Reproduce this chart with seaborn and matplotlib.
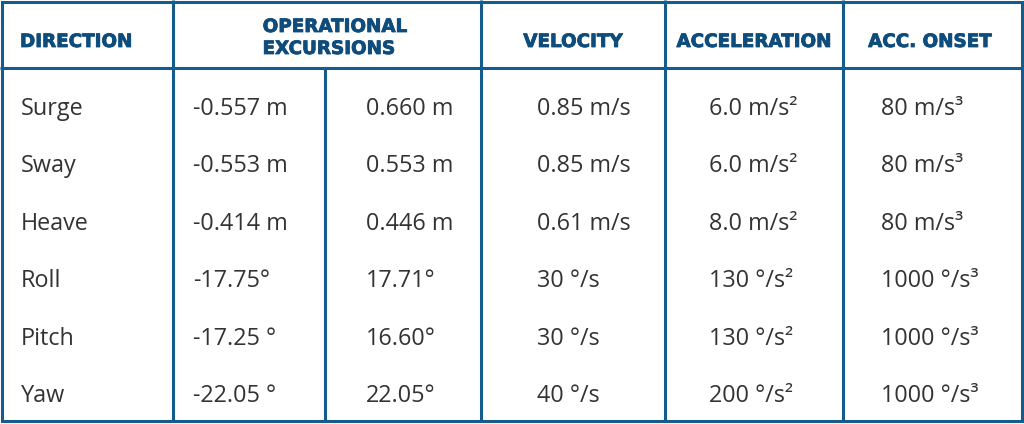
import matplotlib
matplotlib.use("Agg")
import matplotlib.pyplot as plt
import matplotlib.patheffects as pe
import seaborn as sns

# ---- data ----
header_labels = ["DIRECTION", "OPERATIONAL\nEXCURSIONS", "VELOCITY", "ACCELERATION", "ACC. ONSET"]
directions = ["Surge", "Sway", "Heave", "Roll", "Pitch", "Yaw"]
excursion_min = ["-0.557 m", "-0.553 m", "-0.414 m", "-17.75°", "-17.25 °", "-22.05 °"]
excursion_max = ["0.660 m", "0.553 m", "0.446 m", "17.71°", "16.60°", "22.05°"]
velocity = ["0.85 m/s", "0.85 m/s", "0.61 m/s", "30 °/s", "30 °/s", "40 °/s"]
acceleration = ["6.0 m/s²", "6.0 m/s²", "8.0 m/s²", "130 °/s²", "130 °/s²", "200 °/s²"]
acc_onset = ["80 m/s³", "80 m/s³", "80 m/s³", "1000 °/s³", "1000 °/s³", "1000 °/s³"]

# ---- style ----
sns.set_theme(style="white")
plt.rcParams["font.family"] = ["Open Sans", "DejaVu Sans"]

LINE = "#155b8c"
HEAD = "#0e4c7c"
BODY = "#333333"
W, H = 1024, 424

fig = plt.figure(figsize=(W / 100, H / 100), dpi=100)
ax = fig.add_axes([0, 0, 1, 1])
ax.set_xlim(0, W)
ax.set_ylim(H, 0)
ax.axis("off")

lw = 2.2
# outer border
ax.plot([1.5, W - 2.5, W - 2.5, 1.5, 1.5], [1.5, 1.5, H - 3.5, H - 3.5, 1.5],
        color=LINE, lw=lw, solid_joinstyle="miter")
# header separator
ax.hlines(68, 0, W, color=LINE, lw=lw)
# column separators
for x in [173, 481, 665, 843]:
    ax.vlines(x, 0, H - 3, color=LINE, lw=lw)
ax.vlines(325, 68, H - 3, color=LINE, lw=lw)

# header text
hfs = 13.2
hkw = dict(color=HEAD, fontsize=hfs, fontweight="bold", va="baseline",
           family=["DejaVu Sans"],
           path_effects=[pe.withStroke(linewidth=0.6, foreground=HEAD)])
ax.text(20, 47, header_labels[0], ha="left", **hkw)
op, ex = header_labels[1].split("\n")
ax.text(335, 32, op, ha="center", **hkw)
ax.text(329, 54, ex, ha="center", **hkw)
for lab, cx in zip(header_labels[2:], [573, 754, 930]):
    ax.text(cx, 47, lab, ha="center", **hkw)

# body
bfs = 16.8
cols = [directions, excursion_min, excursion_max, velocity, acceleration, acc_onset]
col_x = [21, 193, 366, 537, 709, 881]
for i in range(len(directions)):
    yb = 115 + 57.4 * i
    for col, x in zip(cols, col_x):
        ax.text(x, yb, col[i], color=BODY, fontsize=bfs, ha="left", va="baseline")

fig.savefig("out.png", dpi=100, facecolor="white")
